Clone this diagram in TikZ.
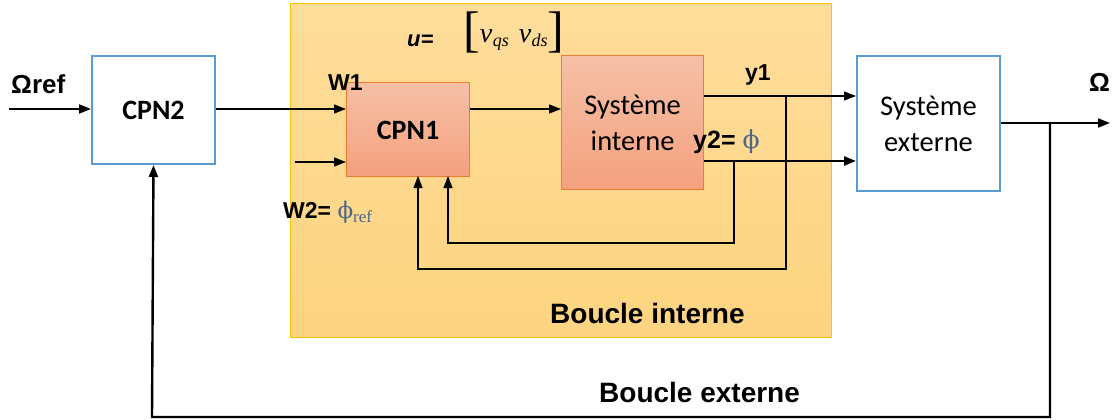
\documentclass[tikz,border=0pt]{standalone}
\usepackage{fontspec}
\setmainfont{Carlito}
\newfontfamily\arialf{Liberation Sans}
\newfontfamily\timesf{Liberation Serif}
\newfontfamily\phif{DejaVu Serif}
\usetikzlibrary{arrows.meta}

\definecolor{loopfill}{RGB}{254,221,155}
\definecolor{loopfillb}{RGB}{253,212,128}
\definecolor{loopedge}{RGB}{255,192,0}
\definecolor{salmontop}{RGB}{246,192,167}
\definecolor{salmonbot}{RGB}{244,161,126}
\definecolor{salmonedge}{RGB}{237,125,49}
\definecolor{blueedge}{RGB}{91,155,213}
\definecolor{phicol}{RGB}{78,102,138}

\newcommand{\phisym}{{\phif\mdseries\upshape\color{phicol}ϕ}}

\tikzset{
  innerblock/.style={draw=salmonedge, line width=1.2pt, top color=salmontop,
    bottom color=salmonbot, anchor=north west, inner sep=0pt},
  outerblock/.style={draw=blueedge, line width=2pt, fill=white,
    anchor=north west, inner sep=0pt},
  blocktext/.style={font=\fontsize{28.5}{36}\selectfont, align=center},
  lbl/.style={font=\arialf\bfseries\fontsize{23}{26}\selectfont, anchor=base west, inner sep=0pt},
  sig/.style={line width=1.3pt, -{Triangle[length=12pt,width=9pt]}},
  sigthick/.style={line width=2.4pt, -{Triangle[length=12pt,width=9pt]}},
}

\begin{document}
\begin{tikzpicture}[x=1pt,y=-1pt]
\useasboundingbox (0,0) rectangle (1117,420);

% inner loop region
\node[draw=loopedge, line width=1.3pt, top color=loopfill, bottom color=loopfillb,
      anchor=north west, inner sep=0pt, minimum width=541pt, minimum height=334pt]
      (inner) at (290,3) {};

% blocks
\node[outerblock, minimum width=123pt, minimum height=108pt] (cpn2) at (91,55) {};
\node[font=\bfseries\fontsize{28}{36}\selectfont] (cpn2t) at (cpn2.center) {CPN2};

\node[innerblock, minimum width=123pt, minimum height=94pt] (cpn1) at (346,82) {};
\node[font=\bfseries\fontsize{28}{36}\selectfont] (cpn1t) at ([yshift=-1pt]cpn1.center) {CPN1};

\node[innerblock, minimum width=142pt, minimum height=134pt] (sysi) at (561,55) {};
\node[blocktext] (sysit) at (sysi.center) {Système\\interne};

\node[outerblock, minimum width=143pt, minimum height=135pt] (syse) at (856,55) {};
\node[blocktext] (syset) at (syse.center) {Système\\externe};

% labels
\node[lbl, font=\arialf\bfseries\fontsize{26}{28}\selectfont] (oref) at (11,94) {Ωref};
\node[lbl, font=\arialf\bfseries\fontsize{26}{28}\selectfont] (om) at (1089,92) {Ω};
\node[lbl] (w1) at (328,91) {W1};
\node[lbl] (w2) at (283,218) {W2= {\phisym\timesf\mdseries\color{phicol}\raisebox{-4pt}{\fontsize{17}{17}\selectfont ref}}};
\node[lbl] (y1) at (745,81) {y1};
\node[lbl, font=\arialf\bfseries\fontsize{25}{28}\selectfont] (y2) at (693,148) {y2= \phisym};
\node[lbl, font=\arialf\bfseries\itshape\fontsize{22}{24}\selectfont] (u) at (407,47) {u=};
\node[anchor=base west, inner sep=0pt] (uvec) at (463,46.5)
  {\timesf\fontsize{50}{50}\selectfont[\raisebox{3.5pt}{\itshape\fontsize{28}{30}\selectfont v\kern0.5pt\raisebox{-4pt}{\fontsize{18}{18}\selectfont qs}\hspace{10pt}v\kern0.5pt\raisebox{-4pt}{\fontsize{18}{18}\selectfont ds}}]};
\node[lbl, font=\arialf\bfseries\fontsize{28}{30}\selectfont] (bi) at (550,323) {Boucle interne};
\node[lbl, font=\arialf\bfseries\fontsize{28}{30}\selectfont] (be) at (599,402) {Boucle externe};

% free ends and branch points
\coordinate (inref) at (9,109);
\coordinate (inw2) at (295,162);
\coordinate (tapy1) at (786,96);
\coordinate (tapy2) at (734,161);
\coordinate (tapom) at (1050,123);
\coordinate (outend) at (1110,123);

% forward path
\draw[sig, line width=2pt] (inref) -- (cpn2.west |- inref);
\draw[sig] (cpn2.east |- inref) -- (cpn1.west |- inref);
\draw[sig] (inw2) -- (cpn1.west |- inw2);
\draw[sig] (cpn1.east |- inref) -- (sysi.west |- inref);
\draw[sig] (sysi.east |- tapy1) -- (syse.west |- tapy1);
\draw[sigthick] (sysi.east |- tapy2) -- (syse.west |- tapy2);
\draw[sig, line width=2pt] (syse.east |- tapom) -- (outend);

% inner feedback loops
\draw[sig] (tapy1) -- (786,269) -- (418,269) -- (418,176);
\draw[sig] (tapy2) -- (734,243) -- (448,243) -- (448,176);

% outer feedback loop
\draw[sigthick] (tapom) -- (1050,417) -- (152,417) -- (cpn2.south);
\end{tikzpicture}
\end{document}
